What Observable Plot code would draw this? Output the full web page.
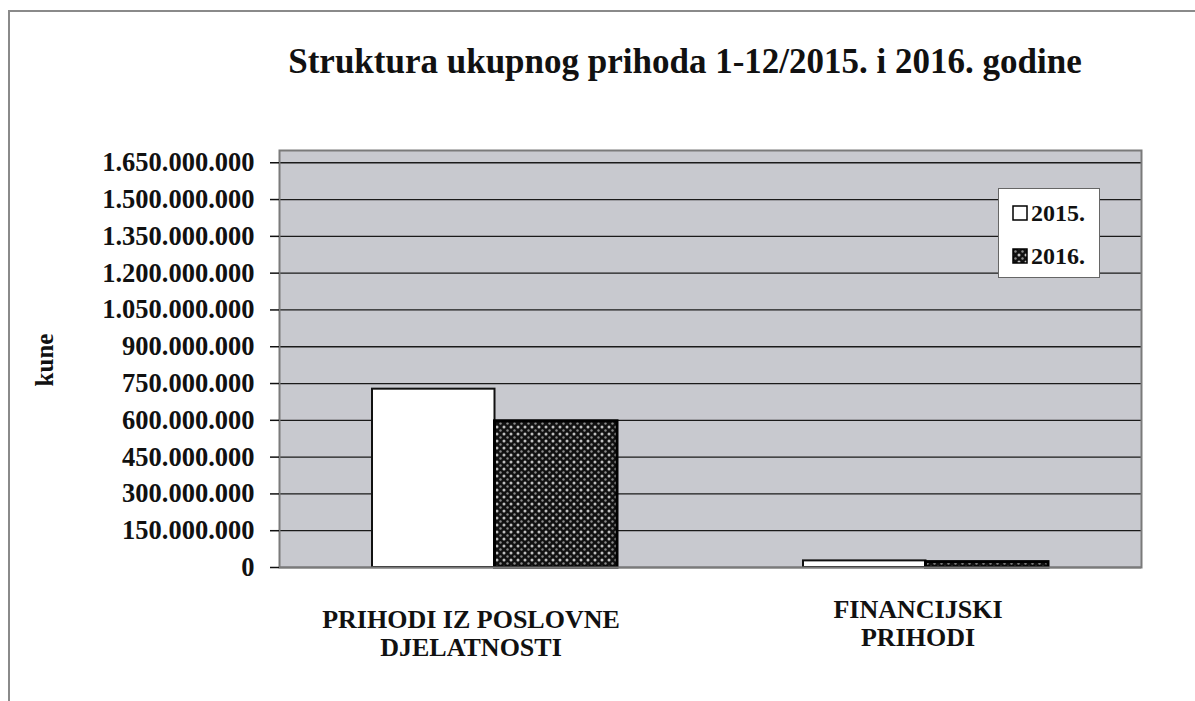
<!DOCTYPE html>
<html><head><meta charset="utf-8">
<script src="https://cdn.jsdelivr.net/npm/d3@7"></script>
<script src="https://cdn.jsdelivr.net/npm/@observablehq/plot@0.6"></script>
<style>
body{margin:0;background:#fff;}
#wrap{position:relative;width:1195px;height:701px;overflow:hidden;font-family:"Liberation Serif","Times New Roman",serif;color:#111;}
#border{position:absolute;left:8px;top:10px;width:1300px;height:800px;border-left:2px solid #8a8a8a;border-top:2px solid #8a8a8a;}
#title{position:absolute;left:0;width:1370px;top:42px;text-align:center;font-weight:bold;font-size:35px;}
#ylabel{position:absolute;left:45px;top:360px;transform:translate(-50%,-50%) rotate(-90deg);font-weight:bold;font-size:25px;}
#chart{position:absolute;left:0;top:0;}
#legend{position:absolute;left:998px;top:188px;width:102px;height:90px;background:#fff;border:1.5px solid #666;box-sizing:border-box;font-weight:bold;font-size:24px;}
.item{position:absolute;left:13px;display:flex;align-items:center;gap:3px;line-height:1;}
</style></head><body>
<div id="wrap">
 <div id="border"></div>
 <div id="title">Struktura ukupnog prihoda 1-12/2015. i 2016. godine</div>
 <div id="ylabel">kune</div>
 <div id="chart"></div>
 <div id="legend"></div>
</div>
<script>
const categories = ["PRIHODI IZ POSLOVNE DJELATNOSTI", "FINANCIJSKI PRIHODI"];
const categoryLabels = ["PRIHODI IZ POSLOVNE\nDJELATNOSTI", "FINANCIJSKI\nPRIHODI"];
const years = ["2015.", "2016."];
const values2015 = [727000000, 27000000];
const values2016 = [596000000, 22000000];
const yTicks = [0, 150000000, 300000000, 450000000, 600000000, 750000000, 900000000, 1050000000, 1200000000, 1350000000, 1500000000, 1650000000];

const data = categories.flatMap((c, i) => [
  {cat: c, year: years[0], value: values2015[i]},
  {cat: c, year: years[1], value: values2016[i]}
]);
const fmt = d3.formatLocale({thousands: ".", grouping: [3], decimal: ",", currency: ["", ""]}).format(",d");
const labelOf = d => categoryLabels[categories.indexOf(d)];
const halfBar = 122.5;

const plot = Plot.plot({
  width: 1195, height: 701,
  marginTop: 150, marginBottom: 134, marginLeft: 279, marginRight: 54,
  style: {fontFamily: "'Liberation Serif', serif", background: "transparent", color: "#111"},
  x: {domain: categories, paddingInner: 0.432, paddingOuter: 0.216, axis: null},
  y: {domain: [0, 1700000000], axis: null},
  marks: [
    Plot.frame({fill: "#c8c9cf"}),
    Plot.gridY(yTicks, {stroke: "#1a1a1a", strokeOpacity: 1, strokeWidth: 1.3}),
    Plot.barY(data.filter(d => d.year === years[0]), {x: "cat", y: "value", insetRight: halfBar, fill: "white", stroke: "#111", strokeWidth: 2}),
    Plot.barY(data.filter(d => d.year === years[1]), {x: "cat", y: "value", insetLeft: halfBar, fill: "url(#hatch)", stroke: "#000", strokeWidth: 3}),
    Plot.frame({stroke: "#7a7a7a", strokeWidth: 2}),
    Plot.axisY(yTicks, {tickSize: 9, tickPadding: 16, tickFormat: fmt, fontSize: 26.5, fontWeight: "bold", fontFamily: "'Liberation Serif', serif", label: null, stroke: "#111", strokeWidth: 1.5}),
    Plot.axisX([categories[0]], {tickSize: 0, tickPadding: 40, tickFormat: labelOf, fontSize: 26, fontWeight: "bold", fontFamily: "'Liberation Serif', serif", lineHeight: 1.1, label: null, dx: -24}),
    Plot.axisX([categories[1]], {tickSize: 0, tickPadding: 30, tickFormat: labelOf, fontSize: 26, fontWeight: "bold", fontFamily: "'Liberation Serif', serif", lineHeight: 1.1, label: null, dx: -8})
  ]
});

const patternDefs = `<pattern id="hatch" width="7" height="7" patternUnits="userSpaceOnUse">
  <rect width="7" height="7" fill="#111"/>
  <circle cx="0" cy="0" r="1.5" fill="#c0c0c0"/><circle cx="7" cy="0" r="1.5" fill="#c0c0c0"/>
  <circle cx="0" cy="7" r="1.5" fill="#c0c0c0"/><circle cx="7" cy="7" r="1.5" fill="#c0c0c0"/>
  <circle cx="3.5" cy="3.5" r="1.2" fill="#8a8a8a"/>
</pattern>`;
const defs = document.createElementNS("http://www.w3.org/2000/svg", "defs");
defs.innerHTML = patternDefs;
plot.insertBefore(defs, plot.firstChild);
document.getElementById("chart").appendChild(plot);

const legend = document.getElementById("legend");
const swatches = ["#fff", "url(#hatch)"];
years.forEach((y, i) => {
  const it = document.createElement("div");
  it.className = "item";
  it.style.top = (i === 0 ? 12 : 55) + "px";
  it.innerHTML = `<svg width="16" height="16"><rect x="1" y="1" width="14" height="14" fill="${swatches[i]}" stroke="#000" stroke-width="1.5"/></svg><span>${y}</span>`;
  legend.appendChild(it);
});
</script>
</body></html>
